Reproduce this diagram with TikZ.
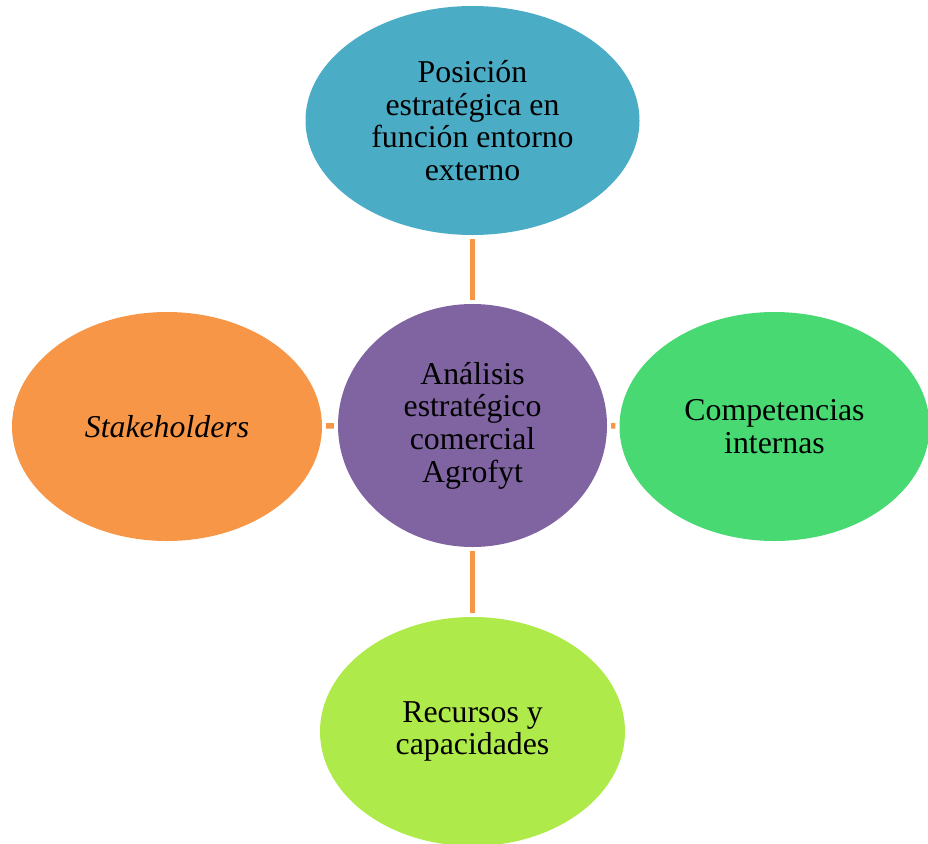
\documentclass[tikz,border=0pt]{standalone}
\usepackage{fontspec}
\setmainfont{Liberation Serif}
\usepackage{tikz}
\usetikzlibrary{shapes.geometric}

\definecolor{aqua}{HTML}{4BACC6}
\definecolor{plum}{HTML}{8064A2}
\definecolor{tangerine}{HTML}{F79646}
\definecolor{mint}{HTML}{49D973}
\definecolor{lime}{HTML}{AEEA4A}

\begin{document}
\begin{tikzpicture}[
  x=1pt, y=-1pt,
  bubble/.style={ellipse, draw=none, fill=#1, inner sep=0pt,
    minimum width=310pt, minimum height=229pt,
    font=\fontsize{31.8}{32.7}\selectfont, text=black, align=center},
  link/.style={line width=5.5pt, tangerine, shorten <=4pt, shorten >=4pt}
]
\useasboundingbox (0,0) rectangle (928,843);

% Central topic
\node[bubble=plum, minimum width=269pt, minimum height=243pt] (hub) at (472.5,425.5)
  {Análisis\\estratégico\\comercial\\Agrofyt};

% Surrounding topics
\node[bubble=aqua, minimum width=334pt] (entorno) at (472.5,120.5)
  {Posición\\estratégica en\\función entorno\\externo};
\node[bubble=tangerine] (stake) at (167,426.5) {\itshape Stakeholders};
\node[bubble=mint] (compet) at (774.5,426.5) {Competencias\\internas};
\node[bubble=lime, minimum width=305pt] (recursos) at (472.5,731.5)
  {Recursos y\\capacidades};

% Connectors
\foreach \n in {entorno, stake, compet, recursos} {
  \draw[link] (\n) -- (hub);
}

\end{tikzpicture}
\end{document}
